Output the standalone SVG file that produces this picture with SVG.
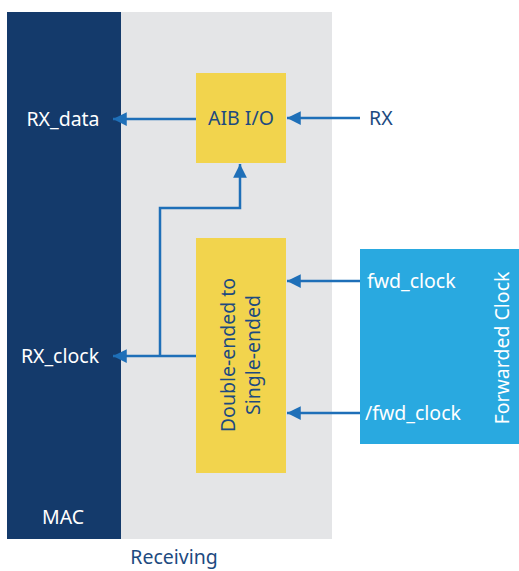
<svg xmlns="http://www.w3.org/2000/svg" width="519" height="571" viewBox="0 0 519 571">
<defs>
<style>
text{font-family:"Noto Sans","Open Sans",sans-serif;font-size:19.5px}
.w{fill:#ffffff}
.d{fill:#1d4a80}
.c{stroke:#1e6fb8;stroke-width:2.5;fill:none}
</style>
<marker id="a" viewBox="0 0 10 10" refX="10" refY="5" markerWidth="5.5" markerHeight="5.5" orient="auto" markerUnits="strokeWidth"><path d="M0,0L10,5L0,10z" fill="#1e6fb8"/></marker>
</defs>
<rect width="519" height="571" fill="#ffffff"/>
<g id="receiving">
<rect x="121" y="12" width="211" height="527" fill="#e4e5e7"/>
<text class="d" x="174" y="564" text-anchor="middle">Receiving</text>
</g>
<g id="mac">
<rect x="7" y="12" width="114" height="527" fill="#143a6b"/>
<text class="w" x="63" y="126" text-anchor="middle">RX_data</text>
<text class="w" x="60" y="363" text-anchor="middle">RX_clock</text>
<text class="w" x="63" y="524" text-anchor="middle">MAC</text>
</g>
<g id="aib">
<rect x="196" y="73" width="90" height="90" fill="#f2d44d"/>
<text class="d" x="241" y="125" text-anchor="middle">AIB I/O</text>
</g>
<g id="conv">
<rect x="196" y="238" width="90" height="235" fill="#f2d44d"/>
<text class="d" transform="translate(235,355) rotate(-90)" text-anchor="middle">Double-ended to</text>
<text class="d" transform="translate(260,355) rotate(-90)" text-anchor="middle">Single-ended</text>
</g>
<g id="fwd">
<rect x="360" y="249" width="159" height="195" fill="#29a9e0"/>
<text class="w" x="367" y="288">fwd_clock</text>
<text class="w" x="365" y="420">/fwd_clock</text>
<text class="w" transform="translate(509,348) rotate(-90)" text-anchor="middle">Forwarded Clock</text>
</g>
<g id="rxlabel">
<text class="d" x="369" y="125">RX</text>
</g>
<g id="connectors">
<line class="c" x1="196" y1="119" x2="113" y2="119" marker-end="url(#a)"/>
<line class="c" x1="360" y1="118" x2="287" y2="118" marker-end="url(#a)"/>
<line class="c" x1="196" y1="356" x2="113" y2="356" marker-end="url(#a)"/>
<polyline class="c" points="160,356 160,208 240,208 240,164" marker-end="url(#a)"/>
<line class="c" x1="360" y1="281" x2="287" y2="281" marker-end="url(#a)"/>
<line class="c" x1="360" y1="413" x2="287" y2="413" marker-end="url(#a)"/>
</g>
</svg>
